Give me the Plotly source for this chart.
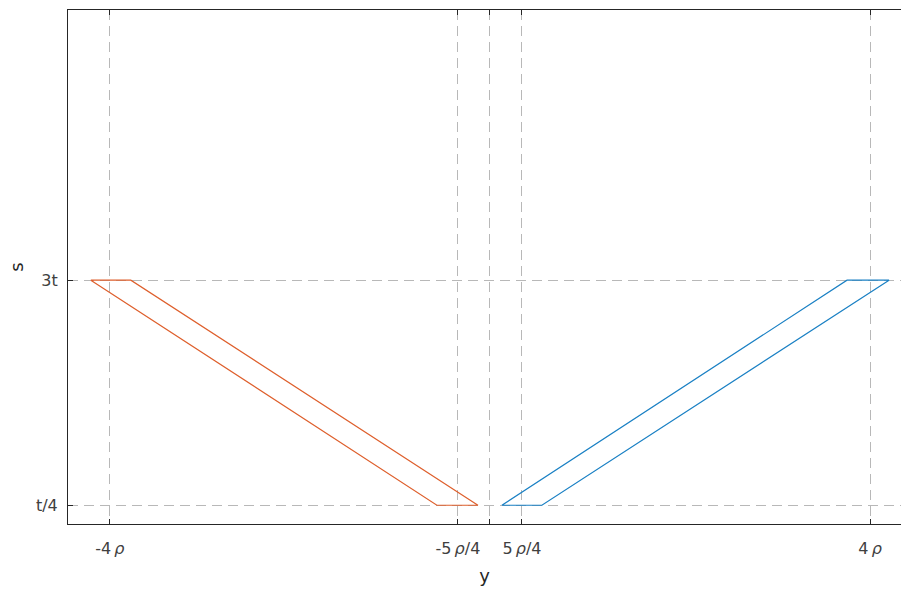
import plotly.graph_objects as go

# Data (t = 1, rho-based x positions in display units)
orange_x = [-4.2, -3.779, -0.126, -0.558, -4.2]
orange_y = [3.0, 3.0, 0.25, 0.25, 3.0]
blue_x = [0.126, 0.547, 4.2, 3.758, 0.126]
blue_y = [0.25, 0.25, 3.0, 3.0, 0.25]

x_tickvals = [-4.0, -0.337, 0.0, 0.337, 4.0]
x_ticktext = ["-4\u2009<i>ρ</i>", "-5\u2009<i>ρ</i>/4", "", "5\u2009<i>ρ</i>/4", "4\u2009<i>ρ</i>"]
y_tickvals = [0.25, 3.0]
y_ticktext = ["t/4", "3t"]

fig = go.Figure()
fig.add_trace(go.Scatter(x=orange_x, y=orange_y, mode="lines",
                         line=dict(color="#DE5F2C", width=1.2), showlegend=False))
fig.add_trace(go.Scatter(x=blue_x, y=blue_y, mode="lines",
                         line=dict(color="#1A80C4", width=1.2), showlegend=False))

axis_font = dict(family="DejaVu Sans, sans-serif", size=16, color="#404040")
title_font = dict(family="DejaVu Sans, sans-serif", size=18, color="#262626")

fig.update_layout(
    width=901, height=591,
    margin=dict(l=68, r=0, t=10, b=67),
    paper_bgcolor="white", plot_bgcolor="white",
    font=axis_font,
    xaxis=dict(
        range=[-4.44, 4.326], tickvals=x_tickvals, ticktext=x_ticktext,
        showgrid=True, gridcolor="#b8b8b8", gridwidth=1, griddash="10px,6px",
        zeroline=False, showline=True, linecolor="#262626", linewidth=1,
        mirror="ticks", ticks="inside", ticklen=5, tickcolor="#262626",
        tickfont=axis_font, ticklabelstandoff=10,
        title=dict(text="y", font=title_font, standoff=12),
    ),
    yaxis=dict(
        range=[0.021, 6.3], tickvals=y_tickvals, ticktext=y_ticktext,
        showgrid=True, gridcolor="#b8b8b8", gridwidth=1, griddash="10px,6px",
        zeroline=False, showline=True, linecolor="#262626", linewidth=1,
        mirror=False, ticks="inside", ticklen=5, tickcolor="#262626",
        tickfont=axis_font, ticklabelstandoff=6,
        title=dict(text="s", font=title_font, standoff=7),
    ),
)

fig.write_html("out.html")
